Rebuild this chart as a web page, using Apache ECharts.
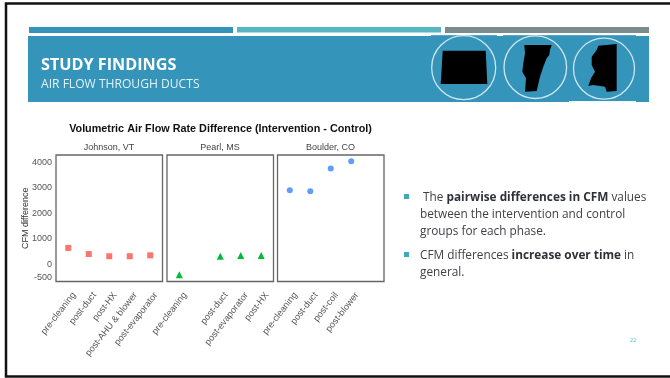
<!DOCTYPE html>
<html>
<head>
<meta charset="utf-8">
<style>html,body{margin:0;padding:0;background:#fff}#chart{width:670px;height:378px}</style>
<script src="https://cdn.jsdelivr.net/npm/echarts@6/dist/echarts.min.js"></script>
</head>
<body>
<div id="chart"></div>
<script>
// Phases measured at each site; an empty slot keeps a position on the shared x scale.
const johnsonPhases = ['pre-cleaning', 'post-duct', 'post-HX', 'post-AHU & blower', 'post-evaporator'];
const pearlPhases = ['pre-cleaning', '', 'post-duct', 'post-evaporator', 'post-HX'];
const boulderPhases = ['pre-cleaning', 'post-duct', 'post-coil', 'post-blower', ''];

// Intervention minus control, in CFM.
const johnsonValues = [650, 410, 325, 325, 360];
const pearlValues = [-400, null, 325, 350, 350];
const boulderValues = [2905, 2870, 3760, 4045, null];

const siteNames = ['Johnson, VT', 'Pearl, MS', 'Boulder, CO'];
const yTicks = [-500, 0, 1000, 2000, 3000, 4000];
const slots = [1, 2, 3, 4, 5];
// Slanted labels end slightly to the right of their slot.
const labelNudge = 0.28;

const panels = [
  { left: 56, phases: johnsonPhases, values: johnsonValues, color: '#F8766D', symbol: 'rect', size: 6 },
  { left: 167, phases: pearlPhases, values: pearlValues, color: '#00BA38', symbol: 'triangle', size: 7 },
  { left: 277.5, phases: boulderPhases, values: boulderValues, color: '#619CFF', symbol: 'circle', size: 6 }
];

const axisFont = 'Liberation Sans, Arial, sans-serif';
const bodyFont = '"Open Sans", sans-serif';

const chart = echarts.init(document.getElementById('chart'), null, { renderer: 'canvas' });

// Flat-coloured state silhouettes sit inside the header rings.
function silhouette(points) {
  return { type: 'polygon', shape: { points }, style: { fill: '#000' }, z: 4 };
}
function ring(cx, cy, r) {
  return { type: 'circle', shape: { cx, cy, r }, style: { fill: 'none', stroke: '#CFE6EF', lineWidth: 1.3 }, z: 3 };
}
function band(x, y, w, h, fill) {
  return { type: 'rect', shape: { x, y, width: w, height: h }, style: { fill }, z: 1 };
}

const bodySize = 11.8;
const richBody = {
  n: { fontFamily: bodyFont, fontSize: bodySize, fill: '#404046', lineHeight: 17 },
  b: { fontFamily: bodyFont, fontSize: bodySize, fontWeight: 'bold', fill: '#30303A', lineHeight: 17 }
};
function bodyText(x, y, text) {
  return { type: 'text', x, y, z: 5, style: { text, rich: richBody, fontFamily: bodyFont, fontSize: bodySize, fill: '#404046', lineHeight: 17 } };
}

const option = {
  animation: false,
  backgroundColor: '#fff',
  title: [
    { text: 'Volumetric Air Flow Rate Difference (Intervention - Control)', left: 220.5, top: 123.5, padding: 0, textAlign: 'center',
      textStyle: { fontFamily: axisFont, fontSize: 10.8, fontWeight: 'bold', color: '#111' } }
  ].concat(panels.map((p, i) => ({
    text: siteNames[i], left: p.left + 53, top: 143.5, padding: 0, textAlign: 'center',
    textStyle: { fontFamily: axisFont, fontSize: 9, fontWeight: 'normal', color: '#444' }
  }))),
  grid: panels.map(p => ({
    left: p.left, top: 155, width: 106.5, height: 126.5, show: true,
    backgroundColor: '#fff', borderColor: '#666', borderWidth: 1.3
  })),
  xAxis: panels.map((p, i) => ({
    type: 'value', gridIndex: i, min: 0.4, max: 5.6,
    splitLine: { show: false }, axisLine: { show: false }, axisTick: { show: false },
    axisLabel: {
      rotate: 52, margin: 12, fontFamily: axisFont, fontSize: 9.2, color: '#555',
      customValues: slots.map(s => s + labelNudge), hideOverlap: false, showMinLabel: true, showMaxLabel: true,
      formatter: v => p.phases[Math.round(v - labelNudge) - 1] || ''
    }
  })),
  yAxis: panels.map((p, i) => ({
    type: 'value', gridIndex: i, min: -664, max: 4286,
    name: i === 0 ? 'CFM difference' : '', nameLocation: 'middle', nameGap: 26, nameMoveOverlap: false,
    nameTextStyle: { fontFamily: axisFont, fontSize: 9, color: '#333' },
    splitLine: { show: false }, axisLine: { show: false }, axisTick: { show: false },
    axisLabel: {
      show: i === 0, margin: 4, fontFamily: axisFont, fontSize: 9, color: '#555',
      customValues: yTicks, formatter: v => String(v)
    }
  })),
  series: panels.map((p, i) => ({
    type: 'scatter', xAxisIndex: i, yAxisIndex: i, z: 3,
    symbol: p.symbol, symbolSize: p.size, itemStyle: { color: p.color, opacity: 1 },
    data: p.values.map((v, k) => (v === null ? null : [slots[k], v])).filter(Boolean)
  })),
  graphic: { elements: [
    // Slide frame
    { type: 'rect', shape: { x: 6, y: 3.5, width: 680, height: 373 }, style: { fill: 'none', stroke: '#111', lineWidth: 2.5 }, z: 0, silent: true },
    // Header stripes and banner
    band(29, 27, 204, 6, '#3494BA'),
    band(237, 27, 204, 5.5, '#58B6C0'),
    band(445, 27, 204, 6, '#7A8C8E'),
    band(28, 36, 621, 66, '#3494BA'),
    band(431, 35, 66, 1, '#5AA9C9'),
    band(503, 35, 133, 1, '#5AA9C9'),
    { type: 'rect', shape: { x: 569, y: 101, width: 67, height: 1 }, style: { fill: '#F2F8FB' }, z: 2 },
    ring(463.7, 67.7, 32),
    ring(535.3, 67.2, 31.3),
    ring(604, 68.7, 30.5),
    silhouette([[442.7, 50.7], [485.7, 50.7], [487.3, 84], [440.7, 84]]),
    silhouette([[524.3, 45], [551.7, 45], [550, 50], [549.3, 55], [546.7, 58.3], [543.3, 66.7], [540, 76.7], [536.7, 91], [525, 91.7], [526, 78.3], [522.3, 71.7], [523.3, 63.3], [525, 53.3]]),
    silhouette([[598.3, 45.7], [616.7, 44], [616.7, 91], [606.7, 91.7], [605, 86.7], [593.3, 85], [588.3, 86], [591, 78.3], [595, 71.7], [591.7, 65], [591.7, 56.7], [596.7, 50]]),
    // Header wording
    { type: 'text', x: 41, y: 57.5, z: 5, style: { text: 'STUDY FINDINGS', fontFamily: bodyFont, fontSize: 16.2, fontWeight: 'bold', fill: '#fff' } },
    { type: 'text', x: 41, y: 78.5, z: 5, style: { text: 'AIR FLOW THROUGH DUCTS', fontFamily: bodyFont, fontSize: 12.1, fill: '#E4F1F6' } },
    // Findings list
    band(404, 194, 5, 5, '#3FA9B8'),
    band(404, 252, 5, 5, '#3FA9B8'),
    bodyText(420, 189, ' The {b|pairwise differences in CFM} values\nbetween the intervention and control\ngroups for each phase.'),
    bodyText(420, 247.5, 'CFM differences {b|increase over time} in\ngeneral.'),
    { type: 'text', x: 630, y: 337, z: 5, style: { text: '22', fontFamily: bodyFont, fontSize: 5.5, fill: '#58B6C0' } }
  ] }
};

chart.setOption(option);
</script>
</body>
</html>
